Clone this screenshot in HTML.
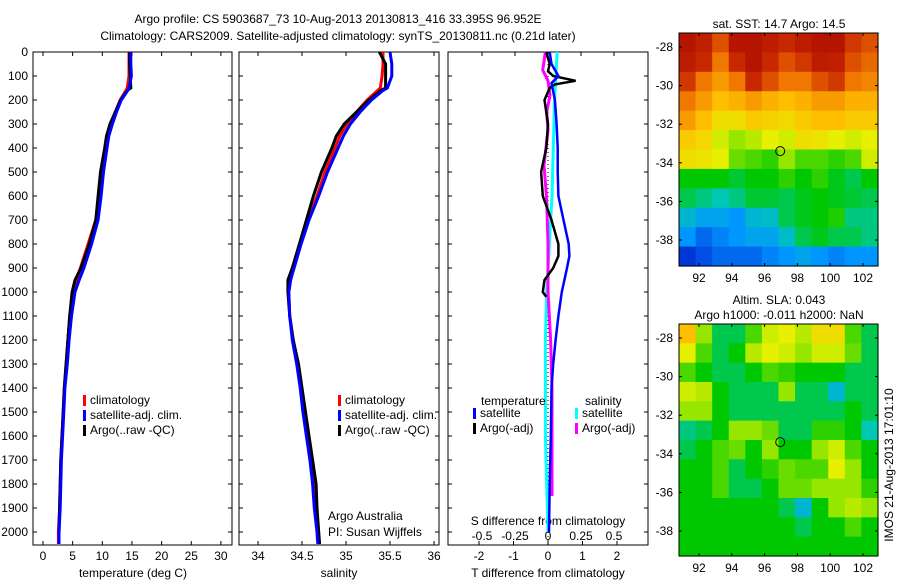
<!DOCTYPE html>
<html><head><meta charset="utf-8">
<style>
body{margin:0;background:#fff;}
svg text{font-family:"Liberation Sans",sans-serif;font-size:12px;fill:#000;}
</style></head>
<body>
<svg id="fig" width="900" height="580" xmlns="http://www.w3.org/2000/svg">
<text x="338" y="23" text-anchor="middle">Argo profile: CS 5903687_73 10-Aug-2013 20130813_416 33.395S 96.952E</text>
<text x="338" y="40" text-anchor="middle">Climatology: CARS2009. Satellite-adjusted climatology: synTS_20130811.nc (0.21d later)</text>
<g id="g"></g>
</svg>
<script>
// ---------- data ----------
const depths = [0,50,100,150,160,200,250,300,350,400,500,600,700,800,900,950,1000,1100,1200,1300,1400,1500,1600,1700,1800,1900,2000,2050];
const tempClim = [14.5,14.5,14.5,14.2,14.0,13.0,12.2,11.4,10.8,10.5,9.9,9.5,8.9,7.6,6.3,5.6,5.0,4.5,4.2,3.9,3.6,3.4,3.2,3.0,2.9,2.8,2.6,2.6];
const tempSat  = [14.8,14.8,14.9,14.5,14.3,13.2,12.4,11.7,11.1,10.8,10.2,9.8,9.3,8.2,6.9,6.1,5.4,4.8,4.4,4.1,3.7,3.5,3.3,3.1,3.0,2.9,2.7,2.7];
const tempArgo = [14.6,14.6,14.7,14.8,14.2,13.1,12.2,11.3,10.7,10.4,9.7,9.3,8.9,7.8,6.4,5.4,4.9,4.5,4.2,3.9,3.6,3.4,3.2,3.0,2.9,2.8,2.7,2.7];
const salClim = [35.42,35.42,35.41,35.39,35.36,35.24,35.12,35.01,34.93,34.875,34.76,34.67,34.57,34.48,34.40,34.37,34.35,34.36,34.40,34.45,34.49,34.52,34.56,34.60,34.63,34.66,34.68,34.70];
const salSat  = [35.5,35.52,35.52,35.47,35.42,35.29,35.16,35.05,34.97,34.91,34.79,34.69,34.58,34.49,34.41,34.37,34.35,34.36,34.39,34.44,34.48,34.51,34.55,34.59,34.62,34.64,34.67,34.68];
const salArgo = [35.38,35.45,35.45,35.45,35.40,35.26,35.12,34.98,34.89,34.84,34.72,34.63,34.55,34.47,34.39,34.34,34.34,34.36,34.40,34.46,34.50,34.54,34.58,34.62,34.66,34.67,34.69,34.70];

const dTsatDepth = [0,50,100,130,200,300,400,500,600,700,800,850,900,1000,1100,1200,1300,1400,1600,1800,2000];
const dTsat      = [0.05,0.1,0.3,0.1,0.2,0.25,0.28,0.28,0.3,0.45,0.6,0.62,0.55,0.4,0.3,0.22,0.15,0.1,0.08,0.05,0.03];
const dTargoDepth = [0,50,80,100,120,135,150,200,300,400,500,600,700,800,850,900,950,1000,1020];
const dTargo      = [-0.05,0.05,0,0.15,0.8,0.2,0.05,-0.1,0,-0.05,-0.2,-0.15,0.1,0.3,0.3,0.15,-0.1,-0.15,-0.05];
const dSsatDepth = [0,100,200,400,600,800,1000,1200,1400,1600,1800,2000];
const dSsat      = [0.07,0.06,0.05,0.04,0.03,0.01,-0.01,-0.02,-0.02,-0.02,-0.01,0.0];
const dSargoDepth = [0,40,75,120,180,250,325,470,615,800,1000,1200,1400,1600,1850];
const dSargo      = [-0.02,-0.03,-0.04,0.0,0.015,-0.01,0.0,-0.03,-0.01,0.0,0.0,0.02,0.03,0.03,0.03];

const depthTicks = [0,100,200,300,400,500,600,700,800,900,1000,1100,1200,1300,1400,1500,1600,1700,1800,1900,2000];
const tempTicks = [0,5,10,15,20,25,30];
const salTicks = [34,34.5,35,35.5,36];
const salTickLabels = ['34','34.5','35','35.5','36'];
const dTTicks = [-2,-1,0,1,2];
const dSTicks = [-0.5,-0.25,0,0.25,0.5];
const dSTickLabels = ['-0.5','-0.25','0','0.25','0.5'];
const lonTicks = [92,94,96,98,100,102];
const latTicks = [-28,-30,-32,-34,-36,-38];

const sstGrid = [
[.95,.92,.85,.95,.95,.93,.9,.93,.95,.95,.88,.85],
[.93,.9,.8,.9,.95,.9,.85,.88,.93,.92,.85,.82],
[.88,.8,.75,.8,.9,.85,.8,.8,.85,.88,.8,.78],
[.8,.75,.7,.72,.75,.72,.7,.72,.75,.75,.72,.72],
[.75,.7,.65,.65,.68,.67,.66,.68,.7,.7,.68,.68],
[.68,.66,.6,.55,.58,.62,.6,.65,.64,.62,.6,.62],
[.65,.64,.62,.52,.5,.48,.55,.5,.5,.48,.5,.6],
[.45,.45,.45,.43,.45,.45,.48,.45,.48,.44,.42,.45],
[.42,.4,.38,.4,.43,.43,.42,.44,.45,.44,.43,.42],
[.35,.32,.32,.3,.35,.36,.42,.44,.45,.47,.4,.4],
[.3,.25,.28,.3,.32,.32,.36,.42,.44,.42,.42,.4],
[.18,.22,.25,.25,.25,.28,.3,.32,.3,.28,.3,.3]];
const slaGrid = [
[.7,.55,.42,.42,.5,.6,.62,.58,.65,.65,.5,.42],
[.62,.5,.42,.45,.58,.62,.6,.55,.6,.6,.52,.42],
[.5,.45,.42,.42,.45,.5,.48,.45,.45,.45,.42,.42],
[.6,.58,.45,.42,.42,.42,.55,.42,.42,.35,.42,.42],
[.55,.55,.45,.42,.42,.42,.42,.42,.42,.42,.45,.42],
[.4,.42,.45,.55,.55,.52,.42,.42,.48,.48,.45,.38],
[.42,.45,.5,.52,.45,.55,.45,.45,.55,.6,.5,.45],
[.45,.45,.5,.42,.45,.48,.52,.5,.5,.62,.55,.45],
[.45,.45,.5,.42,.42,.45,.52,.52,.55,.55,.55,.48],
[.45,.45,.45,.45,.45,.45,.42,.35,.45,.55,.58,.55],
[.45,.45,.45,.45,.45,.45,.45,.42,.45,.45,.5,.45],
[.45,.45,.45,.45,.45,.45,.45,.45,.45,.45,.45,.45]];
const argoLon = 96.952, argoLat = -33.395;

// ---------- helpers ----------
const NS='http://www.w3.org/2000/svg';
const G=document.getElementById('g');
function mk(tag,attrs,parent){const e=document.createElementNS(NS,tag);for(const k in attrs)e.setAttribute(k,attrs[k]);(parent||G).appendChild(e);return e;}
function txt(x,y,s,anchor,parent){const t=mk('text',{x:x,y:y,'text-anchor':anchor||'start'},parent);t.textContent=s;return t;}
const yD = d => 52 + d*0.24;
const xT = v => 43 + v*5.93;
const xS = v => 258 + (v-34)*88;
const xdT = v => 548 + v*34.5;
const xdS = v => 548 + v*132;
const BOT=545;

function frame(x0,x1,name){
  const r=mk('rect',{x:x0,y:52,width:x1-x0,height:BOT-52,fill:'none',stroke:'#000','stroke-width':1});
  
  
}
function xticks(ticks,labels,fx,x0,x1,ly,name){
  ticks.forEach((t,i)=>{const x=fx(t);
    mk('line',{x1:x,y1:52,x2:x,y2:56,stroke:'#000'});
    mk('line',{x1:x,y1:BOT,x2:x,y2:BOT-4,stroke:'#000'});
    const tl=txt(x,ly,labels[i],'middle');
    
    
  });
}
function yticks(x0,x1){
  depthTicks.forEach(d=>{const y=yD(d);
    mk('line',{x1:x0,y1:y,x2:x0+4,y2:y,stroke:'#000'});
    mk('line',{x1:x1,y1:y,x2:x1-4,y2:y,stroke:'#000'});});
}
function line(xs,ds,fx,color,w,name){
  const p=xs.map((v,i)=>fx(v).toFixed(1)+','+yD(ds[i]).toFixed(1)).join(' ');
  const l=mk('polyline',{points:p,fill:'none',stroke:color,'stroke-width':w});
  
  
}
function legend(x,y,items,name){
  items.forEach((it,i)=>{
    mk('rect',{x:x,y:y+i*15-9,width:3,height:11,fill:it[0]});
    const t=txt(x+7,y+i*15,it[1]);
    
    
  });
}

// ---------- panel 1 temperature ----------
frame(33,232,'temperature-axes');
yticks(33,232);
depthTicks.forEach(d=>{const t=txt(28,yD(d)+4,String(d),'end');
  
  });
xticks(tempTicks,tempTicks.map(String),xT,33,232,560,'temperature');
let t1=txt(133,577,'temperature (deg C)','middle');


line(tempClim,depths,xT,'#f00',3,'temp-climatology-line');
line(tempArgo,depths,xT,'#000',3,'temp-argo-line');
line(tempSat,depths,xT,'#00f',3,'temp-satellite-line');
legend(83,404,[['#f00','climatology'],['#00f','satellite-adj. clim.'],['#000','Argo(..raw -QC)']],'temperature-legend');

// ---------- panel 2 salinity ----------
frame(239,439,'salinity-axes');
yticks(239,439);
xticks(salTicks,salTickLabels,xS,239,439,560,'salinity');
let t2=txt(339,577,'salinity','middle');


line(salClim,depths,xS,'#f00',3,'sal-climatology-line');
line(salArgo,depths,xS,'#000',3,'sal-argo-line');
line(salSat,depths,xS,'#00f',3,'sal-satellite-line');
legend(338,404,[['#f00','climatology'],['#00f','satellite-adj. clim.'],['#000','Argo(..raw -QC)']],'salinity-legend');
let c1=txt(328,520,'Argo Australia');
let c2=txt(328,536,'PI: Susan Wijffels');

// ---------- panel 3 differences ----------
frame(448,648,'difference-axes');
yticks(448,648);
mk('line',{x1:548,y1:52,x2:548,y2:BOT,stroke:'#000','stroke-dasharray':'1,3','stroke-width':1});
dTTicks.forEach(t=>{const x=xdT(t);
  mk('line',{x1:x,y1:BOT,x2:x,y2:BOT-4,stroke:'#000'});
  const l=txt(x,560,String(t),'middle');
  
  });
dSTicks.forEach((t,i)=>{const x=xdS(t);
  mk('line',{x1:x,y1:52,x2:x,y2:56,stroke:'#000'});
  const l=txt(x,540,dSTickLabels[i],'middle');
  
  });
let t3=txt(548,577,'T difference from climatology','middle');

let t4=txt(548,525,'S difference from climatology','middle');

line(dSsat,dSsatDepth,xdS,'#0ff',3,'sal-diff-satellite-line');
line(dSargo,dSargoDepth,xdS,'#f0f',3,'sal-diff-argo-line');
line(dTargo,dTargoDepth,xdT,'#000',2.5,'temp-diff-argo-line');
line(dTsat,dTsatDepth,xdT,'#00f',2.5,'temp-diff-satellite-line');
let lh1=txt(481,405,'temperature');
let lh2=txt(585,405,'salinity');
legend(473,417,[['#00f','satellite'],['#000','Argo(-adj)']],'temp-diff-legend');
legend(575,417,[['#0ff','satellite'],['#f0f','Argo(-adj)']],'sal-diff-legend');

// ---------- maps ----------
const stops=[[0,[0,0,140]],[0.2,[0,60,220]],[0.3,[0,150,255]],[0.38,[0,200,180]],[0.45,[0,200,0]],[0.55,[150,230,0]],[0.62,[230,240,0]],[0.7,[255,190,0]],[0.8,[240,120,0]],[0.9,[200,40,0]],[1,[160,0,0]]];
function cmap(v){for(let i=1;i<stops.length;i++){if(v<=stops[i][0]){const a=stops[i-1],b=stops[i],f=(v-a[0])/(b[0]-a[0]);
  return 'rgb('+a[1].map((c,k)=>Math.round(c+(b[1][k]-c)*f)).join(',')+')';}}return 'rgb(160,0,0)';}
function drawMap(grid,top,bot,name,title){
  const x0=679,x1=878;
  const lonX=v=>699+(v-92)*16.4;
  const latY=v=>top+14+(-28-v)*19.3;
  const g=mk('g',{});
  
  
  const nr=grid.length,nc=grid[0].length,cw=(x1-x0)/nc,ch=(bot-top)/nr;
  grid.forEach((row,r)=>row.forEach((v,c)=>{
    const cell=mk('rect',{x:(x0+c*cw).toFixed(2),y:(top+r*ch).toFixed(2),width:(cw+0.6).toFixed(2),height:(ch+0.6).toFixed(2),fill:cmap(v)},g);
    
    
  }));
  mk('rect',{x:x0,y:top,width:x1-x0,height:bot-top,fill:'none',stroke:'#000'},g);
  lonTicks.forEach(t=>{const x=lonX(t);
    mk('line',{x1:x,y1:top,x2:x,y2:top+3,stroke:'#000'},g);
    mk('line',{x1:x,y1:bot,x2:x,y2:bot-3,stroke:'#000'},g);
    const l=txt(x,bot+16,String(t),'middle',g);
    
    });
  latTicks.forEach(t=>{const y=latY(t);
    mk('line',{x1:x0,y1:y,x2:x0+3,y2:y,stroke:'#000'},g);
    mk('line',{x1:x1,y1:y,x2:x1-3,y2:y,stroke:'#000'},g);
    const l=txt(x0-6,y+4,String(t),'end',g);
    
    });
  const m=mk('circle',{cx:lonX(argoLon),cy:latY(argoLat),r:4.5,fill:'none',stroke:'#000'},g);
  
  
  title.forEach((s,i)=>{const tt=txt(779,top-(title.length-i)*15+10,s,'middle',g);
    
    });
}
drawMap(sstGrid,33,266,'sst-map',['sat. SST: 14.7 Argo: 14.5']);
drawMap(slaGrid,324,556,'sla-map',['Altim. SLA: 0.043','Argo h1000: -0.011 h2000: NaN']);
const st=txt(0,0,'IMOS 21-Aug-2013 17:01:10','middle');
st.setAttribute('transform','translate(893,465) rotate(-90)');


</script>
</body></html>
